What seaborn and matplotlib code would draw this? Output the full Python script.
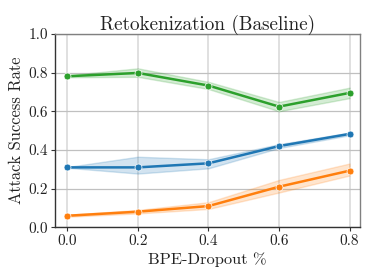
import matplotlib
matplotlib.use('Agg')

import numpy as np
import pandas as pd
import matplotlib.pyplot as plt
import seaborn as sns

sns.set_style('white')
plt.rcParams['font.family'] = ['cmr10', 'DejaVu Serif']
plt.rcParams['mathtext.fontset'] = 'cm'
plt.rcParams['axes.formatter.use_mathtext'] = True
plt.rcParams['axes.unicode_minus'] = False

# ========== 数据 ==========
dropout = [0.0, 0.2, 0.4, 0.6, 0.8]

green_mid = [0.781, 0.798, 0.733, 0.624, 0.695]
green_lo = [0.776, 0.778, 0.715, 0.600, 0.668]
green_hi = [0.786, 0.822, 0.752, 0.648, 0.722]

blue_mid = [0.310, 0.310, 0.331, 0.420, 0.483]
blue_lo = [0.308, 0.278, 0.305, 0.410, 0.476]
blue_hi = [0.312, 0.365, 0.352, 0.430, 0.490]

orange_mid = [0.060, 0.081, 0.110, 0.210, 0.293]
orange_lo = [0.055, 0.072, 0.095, 0.180, 0.268]
orange_hi = [0.065, 0.090, 0.130, 0.245, 0.330]

series = {
    'blue': (blue_lo, blue_mid, blue_hi),
    'orange': (orange_lo, orange_mid, orange_hi),
    'green': (green_lo, green_mid, green_hi),
}
colors = {'blue': '#1f77b4', 'orange': '#ff7f0e', 'green': '#2ca02c'}

rows = []
for name, (lo, mid, hi) in series.items():
    for i, x in enumerate(dropout):
        for v in (lo[i], mid[i], hi[i]):
            rows.append({'dropout': x, 'rate': v, 'run': name})
df = pd.DataFrame(rows)

# ========== 绘图 ==========
fig = plt.figure(figsize=(3.74, 2.8), dpi=100)
ax = fig.add_axes([0.147, 0.188, 0.816, 0.691])

sns.lineplot(data=df, x='dropout', y='rate', hue='run', palette=colors,
             estimator='median', errorbar=('pi', 100), marker='o',
             markersize=5, markeredgewidth=0.5, linewidth=1.8,
             legend=False, ax=ax)

ax.set_xlim(-0.035, 0.83)
ax.set_ylim(0, 1.0)
ax.set_xticks(dropout)
ax.set_yticks([0.0, 0.2, 0.4, 0.6, 0.8, 1.0])
ax.set_xticklabels([f'{x:.1f}' for x in dropout])
ax.set_yticklabels([f'{y:.1f}' for y in [0.0, 0.2, 0.4, 0.6, 0.8, 1.0]])

ax.xaxis.grid(True, color='#dddddd', linewidth=1.3)
ax.yaxis.grid(True, color='#c0c0c0', linewidth=0.9)
ax.set_axisbelow(True)

for s in ['left', 'bottom']:
    ax.spines[s].set_color('#333333')
    ax.spines[s].set_linewidth(1.0)
for s in ['top', 'right']:
    ax.spines[s].set_color('#808080')
    ax.spines[s].set_linewidth(1.0)
ax.tick_params(axis='both', which='major', length=3, width=0.8,
               color='#333333', labelsize=11, labelcolor='#222222', pad=2,
               left=True, bottom=True)

ax.set_title('Retokenization (Baseline)', fontsize=13.8, pad=3, color='#222222')
ax.set_xlabel('BPE-Dropout %', fontsize=11.8, labelpad=3, color='#222222')
ax.set_ylabel('Attack Success Rate', fontsize=11.9, labelpad=3, color='#222222')

fig.savefig('out.png', dpi=100)
